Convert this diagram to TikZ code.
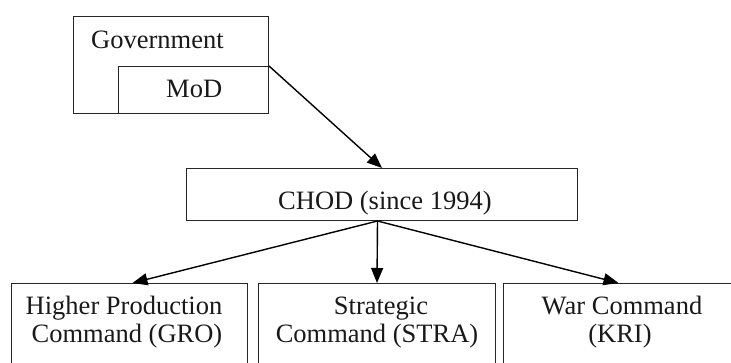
\documentclass[tikz,border=0pt]{standalone}
\usepackage{fontspec}
\setmainfont{Liberation Serif}
\usetikzlibrary{arrows.meta}
\tikzset{
  box/.style={draw=black!85, line width=1pt, rectangle, inner sep=0pt, anchor=north west},
  txt/.style={inner sep=0pt, font=\fontsize{26.5}{27}\selectfont, text=black!90},
  arr/.style={draw=black, line width=1.4pt, -{Triangle[length=15pt,width=12pt]}}
}
\begin{document}
\begin{tikzpicture}[x=1pt,y=-1pt]
\useasboundingbox (0,0) rectangle (731,363);
\clip (0,0) rectangle (731,363);
% top boxes
\node[box, minimum width=195pt, minimum height=97pt] (gov) at (73,16) {};
\node[box, minimum width=150pt, minimum height=47pt] (mod) at (118,66) {};
\node[txt, anchor=base west] (govt) at (91,49) {Government};
\node[txt, anchor=base west] (modt) at (166,98) {MoD};
% CHOD
\node[box, minimum width=391pt, minimum height=52pt] (chod) at (186,168) {};
\node[txt, anchor=base west] (chodt) at (278,210) {CHOD (since 1994)};
% bottom boxes
\node[box, minimum width=236pt, minimum height=120pt] (gro) at (11,283) {};
\node[box, minimum width=237pt, minimum height=120pt] (stra) at (258,283) {};
\node[box, minimum width=238pt, minimum height=120pt] (kri) at (503,283) {};
\node[txt, anchor=base] (gro1) at (124,315) {Higher Production};
\node[txt, anchor=base] (gro2) at (127,342) {Command (GRO)};
\node[txt, anchor=base] (stra1) at (381,315) {Strategic};
\node[txt, anchor=base] (stra2) at (377,342) {Command (STRA)};
\node[txt, anchor=base] (kri1) at (622,315) {War Command};
\node[txt, anchor=base] (kri2) at (620,342) {(KRI)};
% connectors
\draw[arr] (mod.north east) -- (chod.north);
\coordinate (chodout) at ([xshift=-4.5pt]chod.south);
\draw[arr] (chodout) -- ([xshift=3pt]gro.north);
\draw[arr] (chodout) -- (stra.north);
\draw[arr] (chodout) -- ([xshift=-4pt]kri.north);
\end{tikzpicture}
\end{document}
